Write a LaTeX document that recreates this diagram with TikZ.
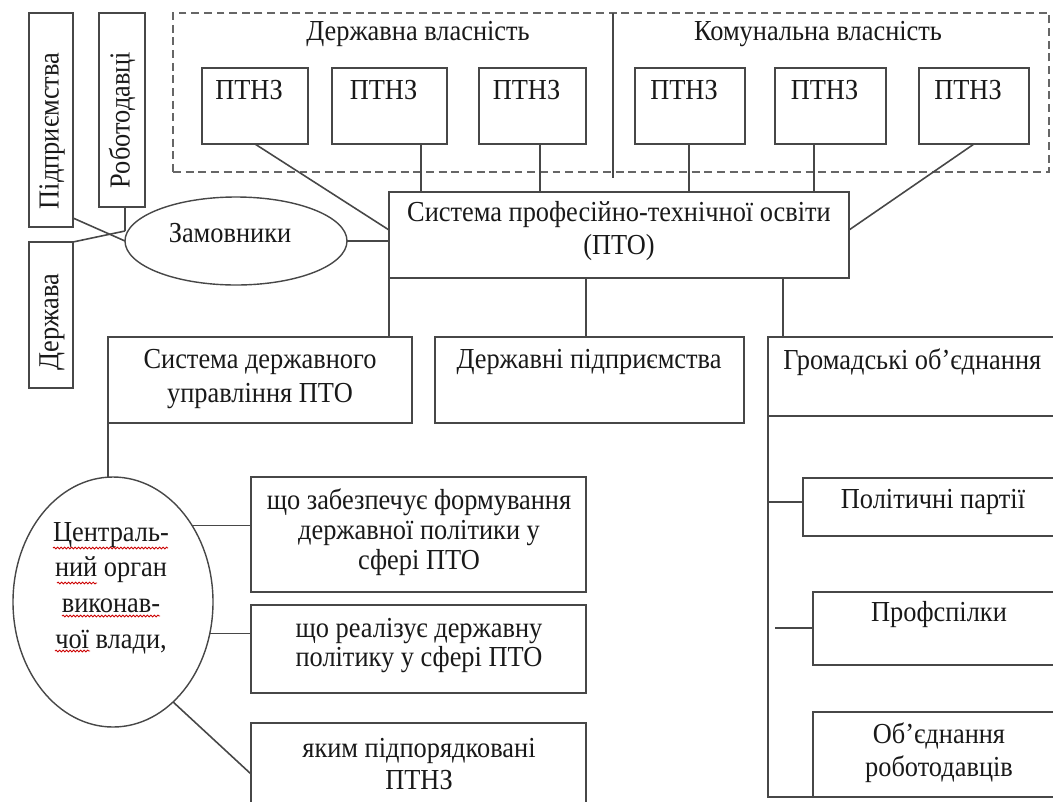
\documentclass[tikz,border=0pt]{standalone}
\usepackage{fontspec}
\setmainfont{Liberation Serif}[FakeStretch=0.91]
\usepackage{tikz}
\usepackage{xcolor}
\usetikzlibrary{shapes.geometric}
\usetikzlibrary{decorations.pathmorphing}
\colorlet{lcol}{black!72}
\colorlet{tcol}{black!90}
\def\px{0.02cm}
\tikzstyle{box}=[draw=lcol,line width=0.9pt,rectangle,inner sep=0,outer sep=0,anchor=north west]
\tikzstyle{frame}=[draw=black!60,line width=0.8pt,dash pattern=on 4.5pt off 2.7pt]
\tikzstyle{oval}=[draw=lcol,line width=0.8pt,ellipse,inner sep=0,outer sep=0]
\tikzstyle{txt}=[tcol,align=center,inner sep=0,font=\fontsize{16.5}{19}\selectfont]
\tikzstyle{link}=[draw=lcol,line width=0.9pt]
\tikzstyle{wavy}=[red!80!black,line width=0.5pt,decorate,decoration={snake,amplitude=0.5pt,segment length=2pt}]
\def\bx#1#2#3#4#5{\node[box,minimum width={(#4-#2)*\px},minimum height={(#5-#3)*\px}] (#1) at (#2,#3) {}}

\begin{document}
\begin{tikzpicture}[x=\px,y=-\px]
    \useasboundingbox (0,0) rectangle (1053,801);

    % zamovnyky
    \bx{Pi}{29}{13}{73}{227};
    \bx{Ro}{99}{13}{145}{207};
    \bx{De}{29}{242}{73}{388};
    \node[txt,rotate=90] (pi) at (52,131) {Підприємства};
    \node[txt,rotate=90] (ro) at (122,120) {Роботодавці};
    \node[txt,rotate=90] (de) at (52,322) {Держава};
    \node[oval,minimum width=222*\px,minimum height=88*\px] (Z) at (236,241) {};
    \node[txt] (z) at (230,233) {Замовники};
    \coordinate (zc) at (125,231);
    \draw[link] ([yshift=9*\px]Pi.south east) -- (Z.west);
    \draw[link] (zc |- Ro.south) -- (zc);
    \draw[link] (De.north east) -- (zc);

    % vlasnist
    \node[box,frame,minimum width=876*\px,minimum height=159*\px] (V) at (173,13) {};
    \coordinate (vd) at (613,178);
    \draw[link] (vd |- V.north) -- (vd);
    \node[txt] (v1) at (418,34) {Державна власність};
    \node[txt] (v2) at (818,34) {Комунальна власність};
    \foreach \n/\a/\b in {1/202/308,2/332/447,3/479/586,4/635/745,5/775/886,6/919/1029} {
        \bx{P\n}{\a}{68}{\b}{144};
        \node[txt] (p\n) at ({(\a+\b)/2-6},90) {ПТНЗ};
    }

    % PTO
    \bx{PTO}{389}{192}{849}{278};
    \node[txt] (pto) at (619,231) {Система професійно-технічної освіти\\(ПТО)};
    \draw[link] (P1.south) -- ([yshift=5*\px]PTO.west);
    \foreach \n/\x in {2/421,3/540,4/689,5/814}
        \draw[link] (\x,0 |- P\n.south) -- (\x,0 |- PTO.north);
    \draw[link] (P6.south) -- ([yshift=5*\px]PTO.east);
    \draw[link] (Z.east) -- (Z.east -| PTO.west);

    % second row
    \bx{SU}{108}{337}{412}{423};
    \bx{DP}{435}{337}{744}{423};
    \bx{GO}{768}{337}{1070}{416};
    \bx{GF}{768}{416}{1070}{797};
    \node[txt] (su) at (260,379) {Система державного\\управління ПТО};
    \node[txt] (dp) at (589,362) {Державні підприємства};
    \node[txt,anchor=west] (go) at (783,362) {Громадські об’єднання};
    \draw[link] (PTO.south west) -- (PTO.south west |- SU.north);
    \draw[link] (586,0 |- PTO.south) -- (586,0 |- DP.north);
    \draw[link] (783,0 |- PTO.south) -- (783,0 |- GO.north);

    % hromadski
    \bx{PP}{803}{478}{1070}{536};
    \bx{PS}{813}{592}{1070}{665};
    \bx{OR}{813}{712}{1070}{797};
    \node[txt] (pp) at (933,502) {Політичні партії};
    \node[txt] (ps) at (939,615) {Профспілки};
    \node[txt] (or) at (939,753) {Об’єднання\\роботодавців};
    \coordinate (ps0) at (775,628);
    \draw[link] ([yshift=5*\px]PP.west -| GF.west) -- ([yshift=5*\px]PP.west);
    \draw[link] (ps0) -- (ps0 -| PS.west);

    % organ vlady
    \node[oval,minimum width=200*\px,minimum height=250*\px] (C) at (113,602) {};
    \node[txt,font=\fontsize{16.5}{20.3}\selectfont] (c) at (111,588) {Централь-\\ний орган\\виконав-\\чої влади,};
    \bx{F1}{251}{477}{586}{592};
    \bx{F2}{251}{605}{586}{693};
    \bx{F3}{251}{723}{586}{815};
    \node[txt,font=\fontsize{16.5}{17}\selectfont] (f1) at (419,532) {що забезпечує формування\\державної політики у\\сфері ПТО};
    \node[txt,font=\fontsize{16.5}{16.5}\selectfont] (f2) at (419,646) {що реалізує державну\\політику у сфері ПТО};
    \node[txt,font=\fontsize{16.5}{18}\selectfont] (f3) at (419,764) {яким підпорядковані\\ПТНЗ};
    \draw[link] (SU.south west) -- (SU.south west |- C.north);
    \draw[link] (C.44) -- (C.44 -| F1.west);
    \draw[link] (C.-18) -- (C.-18 -| F2.west);
    \draw[link] (C.-59) -- ([yshift=-5*\px]F3.west);
    \draw[wavy] (53,548) -- (168,548);
    \draw[wavy] (57,583) -- (97,583);
    \draw[wavy] (62,616) -- (160,616);
    \draw[wavy] (55,651) -- (90,651);
\end{tikzpicture}
\end{document}
